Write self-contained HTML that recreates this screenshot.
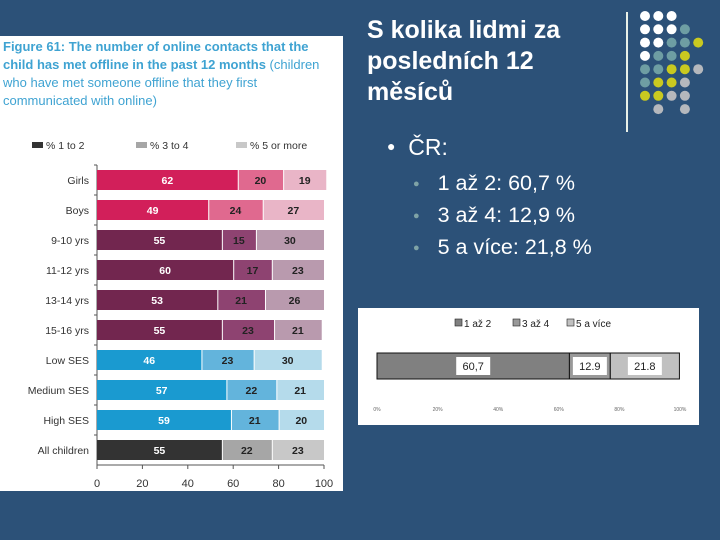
<!DOCTYPE html>
<html><head><meta charset="utf-8"><style>
body{margin:0;width:720px;height:540px;background:#2c5178;overflow:hidden;position:relative;font-family:"Liberation Sans",sans-serif}
.abs{position:absolute}
</style></head><body>
<div class="abs" style="left:0;top:36px;width:343px;height:455px;background:#fff"></div>
<div class="abs" style="left:3px;top:38px;width:335px;font-size:13px;line-height:18px;color:#3fa3d2"><b>Figure 61: The number of online contacts that the child has met offline in the past 12 months</b> (children who have met someone offline that they first communicated with online)</div>
<svg class="abs" style="left:0;top:0" width="720" height="540" id="svg">
<g id="main"></g><g id="small"></g><g id="dots"></g>
</svg>
<div class="abs" style="left:367px;top:15px;color:#fff;font-weight:bold;font-size:25px;line-height:31px">S kolika lidmi za<br>posledních 12<br>měsíců</div>
<div class="abs" style="left:387px;top:134px;color:#fff;font-size:23px"><span style="font-size:14px;vertical-align:4px">●</span>&nbsp; ČR:</div>
<div class="abs" style="left:413px;top:168px;color:#fff;font-size:21.5px;line-height:31px">
<div><span style="color:#7fa3a6;font-size:11px;vertical-align:3px">●</span>&nbsp;&nbsp; 1 až 2: 60,7 %</div>
<div><span style="color:#7fa3a6;font-size:11px;vertical-align:3px">●</span>&nbsp;&nbsp; 3 až 4: 12,9 %</div>
<div><span style="color:#7fa3a6;font-size:11px;vertical-align:3px">●</span>&nbsp;&nbsp; 5 a více: 21,8 %</div>
</div>
<div class="abs" style="left:626px;top:12px;width:2px;height:120px;background:#e8f0e8"></div>
<script>
const categories=["Girls","Boys","9-10 yrs","11-12 yrs","13-14 yrs","15-16 yrs","Low SES","Medium SES","High SES","All children"];
const s1=[62,49,55,60,53,55,46,57,59,55];
const s2=[20,24,15,17,21,23,23,22,21,22];
const s3=[19,27,30,23,26,21,30,21,20,23];
const ticks=[0,20,40,60,80,100];
const legendNames=["% 1 to 2","% 3 to 4","% 5 or more"];
const smallNames=["1 až 2","3 až 4","5 a více"];
const smallVals=[60.7,12.9,21.8];
const smallTicks=["0%","20%","40%","60%","80%","100%"];
const NS="http://www.w3.org/2000/svg";
function mk(p,t,a,txt){const e=document.createElementNS(NS,t);for(const k in a)e.setAttribute(k,a[k]);if(txt!=null)e.textContent=txt;p.appendChild(e);return e;}
const pal=[["#d21f5a","#e0698f","#e9b5c7"],["#d21f5a","#e0698f","#e9b5c7"],["#72264f","#8e4371","#b99aae"],["#72264f","#8e4371","#b99aae"],["#72264f","#8e4371","#b99aae"],["#72264f","#8e4371","#b99aae"],["#1a9ad0","#63b4dc","#b5dbeb"],["#1a9ad0","#63b4dc","#b5dbeb"],["#1a9ad0","#63b4dc","#b5dbeb"],["#333333","#a6a6a6","#c8c8c8"]];
const g=document.getElementById('main');
const x=v=>97+v*2.27, y=i=>180+i*30;
mk(g,'line',{x1:97,y1:165,x2:97,y2:465,stroke:'#555'});
mk(g,'line',{x1:97,y1:465,x2:324,y2:465,stroke:'#555'});
ticks.forEach(t=>{mk(g,'line',{x1:x(t),y1:465,x2:x(t),y2:469,stroke:'#555'});
 const l=mk(g,'text',{x:x(t),y:487,'font-size':11,'text-anchor':'middle',fill:'#333'},t);
 
 });
categories.forEach((c,i)=>{
 mk(g,'line',{x1:94,y1:y(i)-15,x2:97,y2:y(i)-15,stroke:'#555'});
 const lt=mk(g,'text',{x:89,y:y(i)+4,'font-size':10.5,'text-anchor':'end',fill:'#333'},c);
 
 
 let acc=0;[s1[i],s2[i],s3[i]].forEach((v,j)=>{
  const r=mk(g,'rect',{x:x(acc)+(j?1:0),y:y(i)-10,width:Math.max(0,v*2.27-(j?1:0)),height:20,fill:pal[i][j]});
  
  
  mk(g,'text',{x:x(acc+v/2),y:y(i)+4,'font-size':10.5,'font-weight':'bold','text-anchor':'middle',fill:j==0?'#fff':'#222'},v);
  acc+=v;});
});
const lc=["#333","#a6a6a6","#c8c8c8"],lx=[32,136,236];
legendNames.forEach((n,j)=>{mk(g,'rect',{x:lx[j],y:142,width:11,height:6,fill:lc[j]});
 const t=mk(g,'text',{x:lx[j]+14,y:149,'font-size':10.5,fill:'#333'},n);
 
 });
const sg=document.getElementById('small');
mk(sg,'rect',{x:358,y:308,width:341,height:117,fill:'#fff'});
const sx=v=>377+v*3.17;
const sc=["#808080","#999999","#c0c0c0"];
let acc=0;smallVals.forEach((v,j)=>{
 const r=mk(sg,'rect',{x:sx(acc),y:353,width:v*3.17,height:26,fill:sc[j],stroke:'#111','stroke-width':1});
 
 
 const cx=sx(acc+v/2),lbl=String(v).replace('.',',');const w=lbl.length*7+6;
 mk(sg,'rect',{x:cx-w/2,y:357,width:w,height:18,fill:'#fff'});
 mk(sg,'text',{x:cx,y:370,'font-size':11,'text-anchor':'middle',fill:'#222'},j==0?lbl:String(v));
 acc+=v;});
const slx=[455,513,567];
smallNames.forEach((n,j)=>{mk(sg,'rect',{x:slx[j],y:319,width:7,height:7,fill:sc[j],stroke:'#222','stroke-width':0.6});
 const t=mk(sg,'text',{x:slx[j]+9,y:327,'font-size':10,fill:'#222'},n);
 
 });
smallTicks.forEach((t,i)=>{mk(sg,'text',{x:377+i*60.6,y:411,'font-size':5,'text-anchor':'middle',fill:'#666'},t);});
const dg=document.getElementById('dots');
const rows=["WWW","WWWT","WWTTY","WTTY","TTYYG","TYYG","YYGG","-G-G"];
const dc={W:"#ffffff",T:"#6e9ea3",Y:"#c9c920",G:"#b5b8bd"};
rows.forEach((r,ri)=>[...r].forEach((ch,ci)=>{if(dc[ch])mk(dg,'circle',{cx:645+ci*13.3,cy:16+ri*13.3,r:5,fill:dc[ch]});}));
</script>
</body></html>
